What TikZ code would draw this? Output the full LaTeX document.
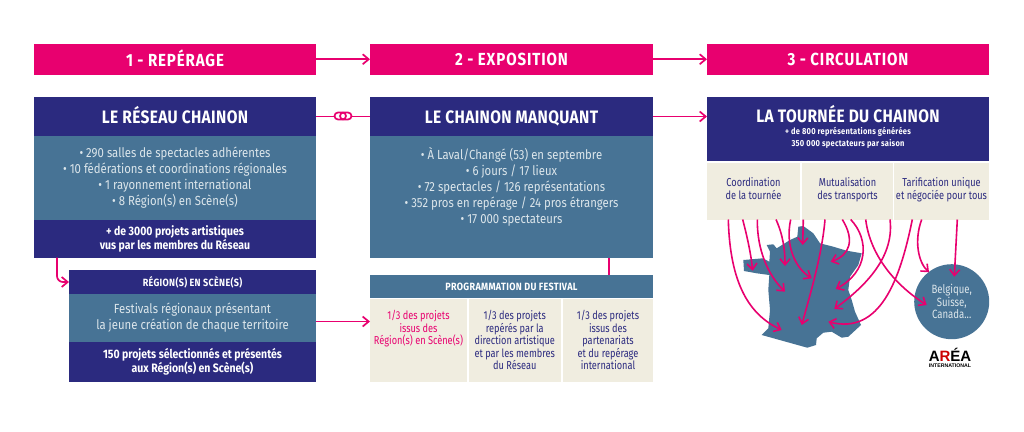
\documentclass[tikz,border=0pt]{standalone}
\usepackage{fontspec}
\setmainfont{Fira Sans}[FakeStretch=0.86]
\newfontfamily\trackf{Fira Sans}[FakeStretch=0.86,LetterSpace=2]
\newfontfamily\smallf{Fira Sans}[FakeStretch=0.86,LetterSpace=3]
\newfontfamily\headf{Fira Sans}[FakeStretch=0.86,LetterSpace=5]
\newfontfamily\narrowf{Fira Sans}[FakeStretch=0.8]
\newfontfamily\logof{Liberation Sans}
\usetikzlibrary{arrows.meta,calc}
\definecolor{pink}{HTML}{E8006F}
\definecolor{navy}{HTML}{2B2A7F}
\definecolor{teal}{HTML}{477395}
\definecolor{cream}{HTML}{F0EDE0}
\definecolor{pale}{HTML}{DCE6EB}
\tikzset{
  block/.style={anchor=north west,inner sep=0pt,align=center,outer sep=0pt},
  headbox/.style={block,fill=pink,text=white,minimum height=30.5pt,minimum width=282pt,font=\headf\fontsize{17.5}{20}\selectfont\bfseries,execute at begin node={\rule[-3pt]{0pt}{19pt}}},
  navybox/.style={block,fill=navy,text=white,font=\fontsize{12.2}{14.5}\selectfont\bfseries},
  smallbox/.style={block,text=white,font=\smallf\fontsize{10.5}{12}\selectfont\bfseries},
  titlebox/.style={block,fill=navy,text=white,font=\trackf\fontsize{18}{21}\selectfont\bfseries,execute at begin node={\rule[-3pt]{0pt}{19pt}}},
  tealbox/.style={block,fill=teal,text=pale,font=\fontsize{13.2}{16}\selectfont},
  creambox/.style={block,fill=cream,text=navy,font=\narrowf\fontsize{11.5}{12.5}\selectfont},
  cellbox/.style={block,fill=cream,text=navy,font=\narrowf\fontsize{11.5}{13}\selectfont,minimum height=56.5pt},
  link/.style={draw=pink,line width=1.7pt,-{Straight Barb[length=6pt,width=10pt]}},
  tour/.style={draw=pink,line width=1.6pt,-{Straight Barb[length=6pt,width=10pt]}},
  plainlink/.style={draw=pink,line width=1.7pt},
}
\begin{document}
\begin{tikzpicture}[x=1pt,y=-1pt]
\path[use as bounding box,fill=white] (0,0) rectangle (1024,431);
% headers
\node[headbox] (h1) at (34,44) {1 - REPÉRAGE};
\node[headbox,minimum width=283pt] (h2) at (370,44) {2 - EXPOSITION};
\node[headbox] (h3) at (707,44) {3 - CIRCULATION};
% column 1
\node[titlebox,minimum width=282pt,minimum height=39pt] (b1) at (34,97) {LE RÉSEAU CHAINON};
\node[tealbox,minimum width=282pt,minimum height=84pt,execute at begin node={\rule{0pt}{13.5pt}}] (b1t) at (34,136) {• 290 salles de spectacles adhérentes\\• 10 fédérations et coordinations régionales\\• 1 rayonnement international\\• 8 Région(s) en Scène(s)};
\node[navybox,minimum width=282pt,minimum height=37.5pt] (b1n) at (34,220) {+ de 3000 projets artistiques\\vus par les membres du Réseau};
\node[smallbox,fill=navy,minimum width=247pt,minimum height=24pt] (r1) at (69,270) {RÉGION(S) EN SCÈNE(S)};
\node[tealbox,minimum width=247pt,minimum height=48pt] (r1t) at (69,294) {Festivals régionaux présentant\\la jeune création de chaque territoire};
\node[navybox,minimum width=247pt,minimum height=39.5pt] (r1n) at (69,342) {150 projets sélectionnés et présentés\\aux Région(s) en Scène(s)};
% column 2
\node[titlebox,minimum width=283pt,minimum height=39pt] (b2) at (370,97) {LE CHAINON MANQUANT};
\node[tealbox,minimum width=283pt,minimum height=121.5pt] (b2t) at (370,136) {• À Laval/Changé (53) en septembre\\• 6 jours / 17 lieux\\• 72 spectacles / 126 représentations\\• 352 pros en repérage / 24 pros étrangers\\• 17 000 spectateurs\\[7pt]~};
\node[smallbox,fill=teal,minimum width=283pt,minimum height=23pt] (p) at (370,275) {PROGRAMMATION DU FESTIVAL};
\node[creambox,text=pink,minimum width=97pt,minimum height=82.5pt] (c1) at (370,299) {1/3 des projets\\issus des\\Région(s) en Scène(s)\\~\\~};
\node[creambox,minimum width=92.5pt,minimum height=82.5pt] (c2) at (468.5,299) {1/3 des projets\\repérés par la\\direction artistique\\et par les membres\\du Réseau};
\node[creambox,minimum width=90pt,minimum height=82.5pt] (c3) at (563,299) {1/3 des projets\\issus des\\partenariats\\et du repérage\\international};
% column 3
\node[block,fill=navy,text=white,font=\smallf\fontsize{8.7}{12}\selectfont\bfseries,minimum width=282pt,minimum height=63.5pt] (b3) at (707,97) {{\trackf\fontsize{18}{21}\selectfont LA TOURNÉE DU CHAINON}\\+ de 800 représentations générées\\350 000 spectateurs par saison\\[-7pt]~};
\node[cellbox,minimum width=93pt] (d1) at (707,163) {Coordination\\de la tournée\\[-7pt]~};
\node[cellbox,minimum width=91pt] (d2) at (802,163) {Mutualisation\\des transports\\[-7pt]~};
\node[cellbox,minimum width=95pt] (d3) at (894,163) {Tarification unique\\et négociée pour tous\\[-7pt]~};
% France
\fill[teal] (743.3,260) -- (763,258.3) -- (769.3,261.7) -- (770,251.7) -- (766.7,245) -- (773.3,244.3) -- (776.7,248.3) -- (790,240) -- (797.3,236.7) -- (798.3,226.7) -- (803.3,226) -- (813.3,233.3) -- (820,243.3) -- (833.3,246.7) -- (846.7,250.7) -- (861.7,253.3) -- (858.3,265) -- (850,276.7) -- (848.3,290) -- (851.7,300) -- (855,311.7) -- (861,325) -- (848.3,336.7) -- (841.7,337.7) -- (831.7,331.7) -- (823.3,332.7) -- (816.7,338.3) -- (816,345) -- (807.3,347.7) -- (761.7,335) -- (768.3,328.3) -- (770,310) -- (768.3,290) -- (769.3,275) -- (756.7,273.3) -- (744,271) -- cycle;
% circle
\node[circle,fill=teal,text=pale,minimum size=75pt,inner sep=0pt,align=center,font=\narrowf\fontsize{12}{12.5}\selectfont] (ci) at (951.7,301.7) {Belgique,\\Suisse,\\Canada...};
% logo
\node[anchor=north,inner sep=0pt,font=\logof\fontsize{15}{15}\selectfont\bfseries] (lg) at (950,348.5) {A\textcolor{red!80!black}{R}ÉA};
\node[anchor=north,inner sep=0pt,font=\logof\fontsize{5.2}{6}\selectfont\bfseries] (lgi) at (950,363.5) {INTERNATIONAL};
% connectors
\draw[link] (h1) -- (h2);
\draw[link] (h2) -- (h3);
\draw[plainlink] (b1.east) -- (b2.west);
\draw[link] (b2.east) -- (b2.east -| b3.west);
\fill[white,rounded corners=3.5pt] (334.5,112.5) rectangle (351.5,119.5);
\draw[pink,line width=1.7pt,rounded corners=3.5pt] (334.5,112.5) rectangle (346,119.5);
\draw[pink,line width=1.7pt,rounded corners=3.5pt] (340,112.5) rectangle (351.5,119.5);
\coordinate (e1) at (57,257.5);
\draw[link,rounded corners=6pt] (e1) |- (r1.west);
\coordinate (r1e) at ($(r1t.east)+(0,3.5)$);
\draw[link] (r1e) -- (r1e -| c1.west);
\coordinate (p1) at (609.3,257.5);
\draw[plainlink] (p1) -- (p1 |- p.north);
% tour arrows
\coordinate (s1) at (728.3,219.5);   \coordinate (t1) at (781.7,330);
\coordinate (s2) at (742.7,219.5);   \coordinate (t2) at (752.7,270.7);
\coordinate (s3) at (757.3,219.5);   \coordinate (t3) at (785,291.7);
\coordinate (s4) at (776,219.5);     \coordinate (t4) at (785,266);
\coordinate (s5) at (790.7,219.5);   \coordinate (t5) at (811.7,278.3);
\coordinate (s6) at (803.3,219.5);   \coordinate (t6) at (802.7,245);
\coordinate (s7) at (825,219.5);     \coordinate (t7) at (801.7,325);
\coordinate (s8) at (842.3,219.5);   \coordinate (t8) at (830.7,261.7);
\coordinate (s9) at (850.7,219.5);   \coordinate (t9) at (835.7,289);
\coordinate (s10) at (865.7,219.5);  \coordinate (t10) at (926.7,305);
\coordinate (s11) at (890,219.5);    \coordinate (t11) at (834.3,309);
\coordinate (s12) at (912.3,219.5);  \coordinate (t12) at (828.3,321.7);
\coordinate (s13) at (921.7,219.5);  \coordinate (t13) at (929,272.3);
\coordinate (s14) at (957.3,219.5);  \coordinate (t14) at (954.3,276.7);
\draw[tour] (s1) .. controls (730,285) and (750,315) .. (t1);
\draw[tour] (s2) .. controls (748,240) and (751,255) .. (t2);
\draw[tour] (s3) .. controls (757,250) and (768,275) .. (t3);
\draw[tour] (s4) .. controls (783,235) and (785,250) .. (t4);
\draw[tour] (s5) .. controls (785,245) and (795,268) .. (t5);
\draw[tour] (s6) -- (t6);
\draw[tour] (s7) .. controls (822,255) and (810,295) .. (t7);
\draw[tour] (s8) .. controls (855,240) and (850,255) .. (t8);
\draw[tour] (s9) .. controls (870,240) and (868,272) .. (t9);
\draw[tour] (s10) .. controls (870,255) and (895,285) .. (t10);
\draw[tour] (s11) .. controls (895,260) and (860,290) .. (t11);
\draw[tour] (s12) .. controls (900,280) and (880,335) .. (t12);
\draw[tour] (s13) .. controls (914,240) and (918,262) .. (t13);
\draw[tour] (s14) -- (t14);
\end{tikzpicture}
\end{document}
